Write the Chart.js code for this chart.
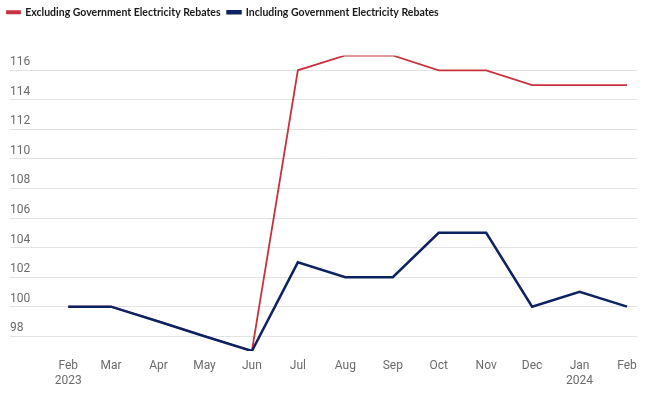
<!DOCTYPE html>
<html>
<head>
<meta charset="utf-8">
<script src="https://cdn.jsdelivr.net/npm/chart.js@4/dist/chart.umd.min.js"></script>
<style>
  html, body { margin: 0; padding: 0; background: #fff; }
  #wrap { width: 650px; height: 393px; position: relative; }
</style>
</head>
<body>
<div id="wrap"><canvas id="chart"></canvas></div>
<script>
// months shown on the axis (year, month)
const months = [
  [2023, 2], [2023, 3], [2023, 4], [2023, 5], [2023, 6], [2023, 7], [2023, 8],
  [2023, 9], [2023, 10], [2023, 11], [2023, 12], [2024, 1], [2024, 2]
];
const monthNames = ['Jan', 'Feb', 'Mar', 'Apr', 'May', 'Jun', 'Jul', 'Aug', 'Sep', 'Oct', 'Nov', 'Dec'];
const yearLabelAt = [0, 11]; // indexes where the year is printed under the month

const excludingRebates = [100, 100, 99, 98, 97, 116, 117, 117, 116, 116, 115, 115, 115];
const includingRebates = [100, 100, 99, 98, 97, 103, 102, 102, 105, 105, 100, 101, 100];

const yTicks = [98, 100, 102, 104, 106, 108, 110, 112, 114, 116];

// days since first month, so spacing follows the calendar
const day0 = Date.UTC(months[0][0], months[0][1] - 1, 1);
const xDays = months.map(m => (Date.UTC(m[0], m[1] - 1, 1) - day0) / 86400000);

function toPoints(values) {
    return values.map((v, i) => ({ x: xDays[i], y: v }));
}

function monthLabel(i) {
    const m = months[i];
    const name = monthNames[m[1] - 1];
    return yearLabelAt.includes(i) ? [name, String(m[0])] : name;
}

const axisFont = { family: 'Roboto', size: 12 };

// extra gap under the legend
const legendGap = {
    id: 'legendGap',
    beforeInit(chart) {
        const fit = chart.legend.fit;
        chart.legend.fit = function() {
            fit.bind(chart.legend)();
            this.height += 28;
        };
    }
};

const data = {
    datasets: [
        {
            label: 'Including Government Electricity Rebates',
            data: toPoints(includingRebates),
            borderColor: '#0d2361',
            backgroundColor: '#0d2361',
            borderWidth: 2.5,
            pointRadius: 0,
            order: 1
        },
        {
            label: 'Excluding Government Electricity Rebates',
            data: toPoints(excludingRebates),
            borderColor: '#c8323f',
            backgroundColor: '#c8323f',
            borderWidth: 1.8,
            pointRadius: 0,
            order: 2
        }
    ]
};

const config = {
    type: 'line',
    data: data,
    plugins: [legendGap],
    options: {
        animation: false,
        responsive: true,
        maintainAspectRatio: false,
        layout: {
            padding: { left: 0, right: 13, top: 0, bottom: 0 }
        },
        plugins: {
            legend: {
                align: 'start',
                position: 'top',
                reverse: true,
                labels: {
                    boxWidth: 13,
                    boxHeight: 2,
                    padding: 7,
                    color: '#1a1a1a',
                    font: { family: 'Lato', size: 10.5, weight: 'bold' }
                }
            },
            tooltip: { enabled: false }
        },
        scales: {
            x: {
                type: 'linear',
                min: -38,
                max: 371.5,
                afterBuildTicks: function(scale) {
                    scale.ticks = xDays.map(d => ({ value: d }));
                },
                afterFit: function(scale) {
                    scale.height = 42;
                },
                ticks: {
                    autoSkip: false,
                    maxRotation: 0,
                    padding: 0,
                    color: '#6b6b6b',
                    font: axisFont,
                    callback: function(value) {
                        return monthLabel(xDays.indexOf(value));
                    }
                },
                grid: { display: false },
                border: { display: false }
            },
            y: {
                min: 97,
                max: 117,
                afterBuildTicks: function(scale) {
                    scale.ticks = yTicks.map(v => ({ value: v }));
                },
                afterFit: function(scale) {
                    scale.width = 10;
                },
                ticks: {
                    mirror: true,
                    padding: 0,
                    labelOffset: -8,
                    color: '#6b6b6b',
                    font: axisFont
                },
                grid: {
                    color: '#e3e3e3',
                    lineWidth: 1,
                    drawTicks: false
                },
                border: { display: false }
            }
        }
    }
};

const ctx = document.getElementById('chart').getContext('2d');
new Chart(ctx, config);
</script>
</body>
</html>
